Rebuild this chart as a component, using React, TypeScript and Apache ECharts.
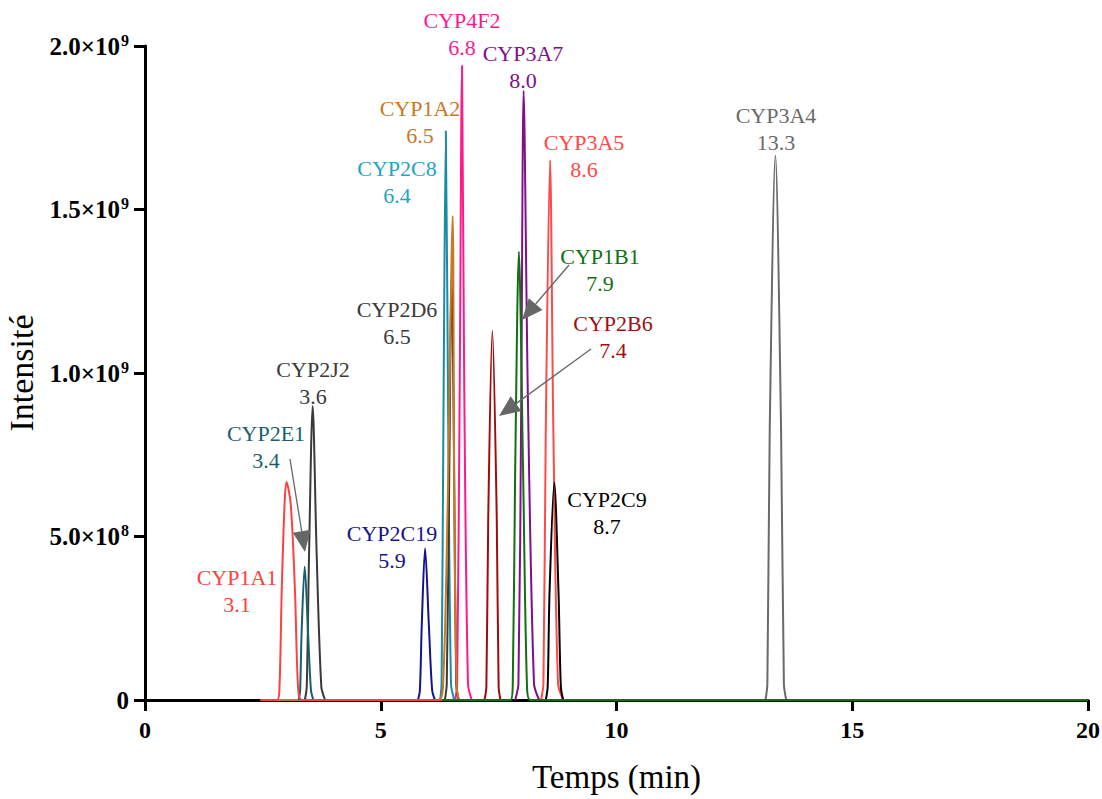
import React, { useEffect, useRef } from "react";
import * as echarts from "echarts";

// Intensity values are in units of 10^9 ; time in minutes
const xTicks = [0, 5, 10, 15, 20];
const yTickMantissa: Record<string, string> = { "0.5": "5.0×10", "1": "1.0×10", "1.5": "1.5×10", "2": "2.0×10" };
const yTickExponent: Record<string, string> = { "0.5": "8", "1": "9", "1.5": "9", "2": "9" };

const cyp1a1 = [[2.45, 0], [2.8, 0], [2.85, 0.03], [2.9, 0.336], [2.96, 0.6], [3.0, 0.667], [3.09, 0.6], [3.18, 0.336], [3.25, 0.03], [3.33, 0], [6.3, 0]];
const cyp2e1 = [[3.26, 0], [3.29, 0.03], [3.32, 0.2], [3.387, 0.408], [3.46, 0.2], [3.52, 0.03], [3.57, 0]];
const cyp2j2 = [[3.39, 0], [3.43, 0.04], [3.48, 0.45], [3.556, 0.899], [3.64, 0.45], [3.74, 0.04], [3.82, 0]];
const cyp2c19 = [[5.79, 0], [5.83, 0.03], [5.87, 0.23], [5.94, 0.464], [6.02, 0.23], [6.09, 0.03], [6.15, 0]];
const cyp2c8 = [[6.26, 0], [6.29, 0.05], [6.33, 0.87], [6.38, 1.74], [6.43, 0.87], [6.49, 0.05], [6.56, 0]];
const cyp1a2 = [[2.45, 0], [6.22, 0], [6.32, 0.04], [6.42, 0.6], [6.525, 1.48], [6.56, 0.6], [6.61, 0.04], [6.66, 0]];
const cyp2d6 = [[6.36, 0], [6.4, 0.05], [6.45, 0.65], [6.505, 1.31], [6.56, 0.65], [6.6, 0.05], [6.65, 0]];
const cyp4f2 = [[6.58, 0], [6.62, 0.05], [6.675, 0.97], [6.723, 1.94], [6.77, 0.97], [6.85, 0.05], [6.93, 0]];
const cyp2b6 = [[7.2, 0], [7.24, 0.04], [7.28, 0.56], [7.367, 1.129], [7.46, 0.56], [7.5, 0.04], [7.54, 0]];
const cyp1b1 = [[6.3, 0], [7.75, 0], [7.8, 0.05], [7.85, 0.69], [7.93, 1.371], [8.02, 0.69], [8.1, 0.05], [8.17, 0], [20, 0]];
const cyp3a7 = [[7.85, 0], [7.92, 0.05], [7.98, 0.93], [8.03, 1.863], [8.12, 0.93], [8.25, 0.05], [8.36, 0]];
const cyp3a5 = [[8.4, 0], [8.45, 0.05], [8.5, 0.83], [8.59, 1.651], [8.66, 0.83], [8.76, 0.05], [8.87, 0]];
const cyp2c9 = [[8.5, 0], [8.54, 0.04], [8.58, 0.33], [8.68, 0.665], [8.77, 0.33], [8.82, 0.04], [8.87, 0]];
const cyp3a4 = [[13.16, 0], [13.2, 0.05], [13.25, 0.83], [13.37, 1.664], [13.49, 0.83], [13.55, 0.05], [13.6, 0]];

const isoforms = ["CYP3A4", "CYP3A5", "CYP2C9", "CYP3A7", "CYP2B6", "CYP4F2", "CYP2C8", "CYP2D6", "CYP1A2", "CYP2C19", "CYP2J2", "CYP2E1", "CYP1A1", "CYP1B1"];
const peakData = [cyp3a4, cyp3a5, cyp2c9, cyp3a7, cyp2b6, cyp4f2, cyp2c8, cyp2d6, cyp1a2, cyp2c19, cyp2j2, cyp2e1, cyp1a1, cyp1b1];
const lineColors = ["#6a6a6a", "#ff4a4a", "#000000", "#80108a", "#a00c0c", "#ff1a8c", "#1a8aa5", "#3a3a3a", "#cc7722", "#14148c", "#3a3a3a", "#1a5f6e", "#ff4040", "#117011"];

// annotation labels: name, retention time, colour
const labelNames = ["CYP1A1", "CYP2E1", "CYP2J2", "CYP2C19", "CYP2C8", "CYP1A2", "CYP2D6", "CYP4F2", "CYP3A7", "CYP3A5", "CYP1B1", "CYP2B6", "CYP2C9", "CYP3A4"];
const labelTimes = ["3.1", "3.4", "3.6", "5.9", "6.4", "6.5", "6.5", "6.8", "8.0", "8.6", "7.9", "7.4", "8.7", "13.3"];
const labelColors = ["#ff4040", "#1a5f6e", "#3a3a3a", "#14148c", "#22a5c5", "#cc7722", "#3a3a3a", "#ff1a8c", "#80108a", "#ff4848", "#117011", "#a01010", "#000000", "#6a6a6a"];
const labelPos = [[237, 577], [266, 433], [313, 369], [392, 533], [397, 168], [420, 108], [397, 309], [462, 20], [523, 53], [584, 142], [600, 256], [613, 323], [607, 499], [776, 115]];

const arrows = [
  { from: [290, 459], tip: [305, 552] },
  { from: [569, 265], tip: [522, 320] },
  { from: [591, 349], tip: [499, 416] },
];

const FONT = '"Liberation Serif", "Times New Roman", serif';

export default function App() {
  const ref = useRef<HTMLDivElement>(null);
  useEffect(() => {
    if (!ref.current) return;
    const chart = echarts.init(ref.current, undefined, { renderer: "svg" });

    const graphics: any[] = [];
    labelNames.forEach((n, i) => {
      graphics.push({
        type: "text",
        x: labelPos[i][0],
        y: labelPos[i][1] + 13.5,
        style: {
          text: n + "\n" + labelTimes[i],
          fill: labelColors[i],
          fontSize: 22,
          fontFamily: FONT,
          align: "center",
          verticalAlign: "middle",
          lineHeight: 27,
        },
        z: 10,
      });
    });
    arrows.forEach((a) => {
      const dx = a.tip[0] - a.from[0];
      const dy = a.tip[1] - a.from[1];
      const len = Math.sqrt(dx * dx + dy * dy);
      const ux = dx / len, uy = dy / len;
      const hl = 21, hw = 9;
      const bx = a.tip[0] - ux * hl, by = a.tip[1] - uy * hl;
      graphics.push({
        type: "line",
        shape: { x1: a.from[0], y1: a.from[1], x2: bx, y2: by },
        style: { stroke: "#666", lineWidth: 1.3 },
        z: 10,
      });
      graphics.push({
        type: "polygon",
        shape: { points: [[a.tip[0], a.tip[1]], [bx - uy * hw, by + ux * hw], [bx + uy * hw, by - ux * hw]] },
        style: { fill: "#666" },
        z: 10,
      });
    });

    chart.setOption({
      animation: false,
      backgroundColor: "#ffffff",
      grid: { left: 145, right: 14, top: 46, bottom: 99, containLabel: false, outerBoundsMode: "none" },
      xAxis: {
        type: "value",
        min: xTicks[0],
        max: xTicks[xTicks.length - 1],
        interval: 5,
        name: "Temps (min)",
        nameLocation: "middle",
        nameGap: 60,
        nameTextStyle: { fontSize: 33, fontFamily: FONT, color: "#000" },
        axisLine: { show: true, onZero: false, lineStyle: { color: "#000", width: 3 } },
        axisTick: { show: true, length: 11, lineStyle: { color: "#000", width: 3 } },
        axisLabel: { fontSize: 24, fontWeight: "bold", fontFamily: FONT, color: "#000", margin: 18 },
        splitLine: { show: false },
      },
      yAxis: {
        type: "value",
        min: 0,
        max: 2,
        interval: 0.5,
        name: "Intensité",
        nameLocation: "middle",
        nameGap: 94,
        nameTextStyle: { fontSize: 34, fontFamily: FONT, color: "#000" },
        axisLine: { show: true, lineStyle: { color: "#000", width: 3 } },
        axisTick: { show: true, length: 11, lineStyle: { color: "#000", width: 3 } },
        axisLabel: {
          fontSize: 25,
          fontWeight: "bold",
          fontFamily: FONT,
          color: "#000",
          margin: 16,
          formatter: (v: number) => {
            const k = String(v);
            if (!yTickMantissa[k]) return "{m|0}";
            return "{m|" + yTickMantissa[k] + "}{e|" + yTickExponent[k] + "}";
          },
          rich: {
            m: { fontSize: 25, fontWeight: "bold", fontFamily: FONT, color: "#000", lineHeight: 28 },
            e: { fontSize: 16, fontWeight: "bold", fontFamily: FONT, color: "#000", verticalAlign: "top", lineHeight: 16, padding: [0, 0, 12, 1] },
          },
        },
        splitLine: { show: false },
      },
      series: isoforms.map((n, i) => ({
        name: n,
        type: "line",
        data: peakData[i],
        showSymbol: false,
        symbol: "none",
        smooth: 0.3,
        lineStyle: { color: lineColors[i], width: 2 },
        z: 2 + i * 0.01,
      })),
      graphic: graphics,
    });
    return () => chart.dispose();
  }, []);
  return <div ref={ref} style={{ position: "fixed", left: 0, top: 0, width: 1102, height: 799 }} />;
}
